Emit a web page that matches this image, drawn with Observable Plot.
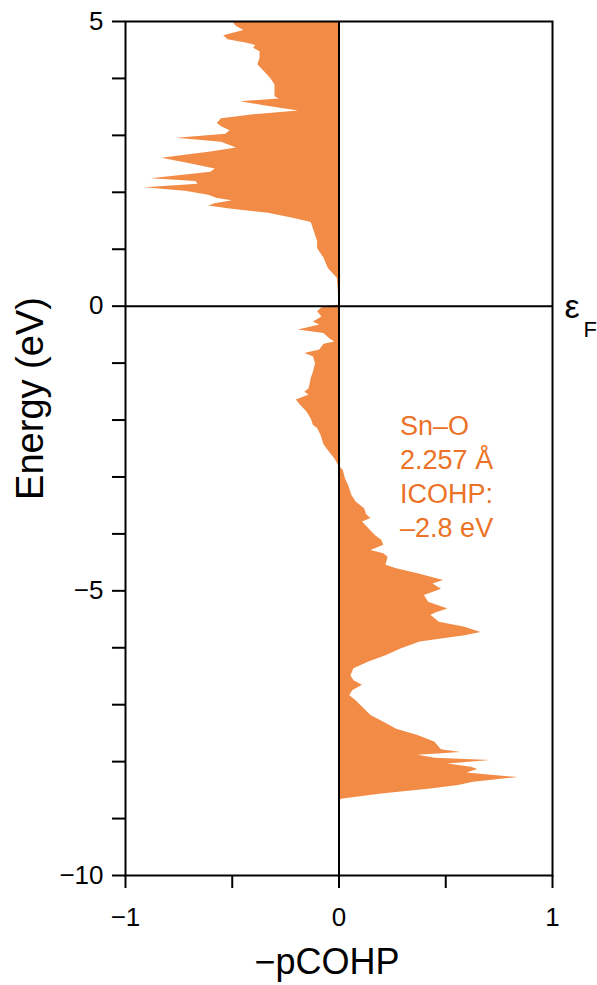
<!DOCTYPE html>
<html>
<head>
<meta charset="utf-8">
<script src="https://cdn.jsdelivr.net/npm/d3@7"></script>
<script src="https://cdn.jsdelivr.net/npm/@observablehq/plot@0.6"></script>
<style>
  html, body { margin: 0; padding: 0; background: #fff; }
  #chart svg { display: block; }
</style>
</head>
<body>
<div id="chart"></div>
<script>
// Energy (eV) and −pCOHP values
const energy = [
  5.00, 4.91, 4.84, 4.75, 4.68, 4.62, 4.58, 4.53, 4.47, 4.35, 4.24, 4.12, 4.00, 3.89, 3.68, 3.64,
  3.59, 3.52, 3.43, 3.36, 3.29, 3.21, 3.15, 3.08, 3.02, 2.95, 2.88, 2.78, 2.71, 2.60, 2.51, 2.41,
  2.35, 2.24, 2.19, 2.14, 2.08, 2.02, 1.95, 1.89, 1.85, 1.80, 1.76, 1.71, 1.63, 1.54, 1.47, 1.36,
  1.13, 1.01, 0.84, 0.66, 0.49, 0.30, 0.02,
  -0.01, -0.04, -0.10, -0.19, -0.28, -0.33, -0.42, -0.48, -0.57, -0.63, -0.67, -0.77, -0.83, -0.89,
  -1.01, -1.16, -1.27, -1.45, -1.51, -1.56, -1.65, -1.74, -1.86, -1.98, -2.09, -2.15, -2.27, -2.44,
  -2.56, -2.68, -2.81,
  -2.88, -3.03, -3.15, -3.32, -3.44, -3.56, -3.67, -3.73, -3.79, -3.91, -4.03, -4.11, -4.20, -4.29,
  -4.35, -4.41, -4.55, -4.61, -4.70, -4.82, -4.88, -4.97, -5.08, -5.20, -5.32, -5.38, -5.43, -5.55,
  -5.64, -5.73, -5.79, -5.90, -6.02, -6.14, -6.25, -6.37, -6.49, -6.58, -6.66, -6.75, -6.84, -6.93,
  -7.08, -7.19, -7.31, -7.43, -7.54, -7.66, -7.75, -7.79, -7.84, -7.89, -7.94, -7.98, -8.04, -8.10,
  -8.14, -8.20, -8.28, -8.36, -8.42, -8.48, -8.57, -8.66, -8.72, -10.00
];
const pcohp = [
  -0.50, -0.48, -0.445, -0.54, -0.52, -0.43, -0.39, -0.40, -0.37, -0.37, -0.38, -0.35, -0.32, -0.30, -0.30, -0.28,
  -0.46, -0.35, -0.19, -0.40, -0.55, -0.57, -0.55, -0.51, -0.53, -0.76, -0.55, -0.48, -0.60, -0.83, -0.71, -0.58,
  -0.60, -0.88, -0.67, -0.66, -0.91, -0.72, -0.61, -0.57, -0.50, -0.58, -0.61, -0.52, -0.33, -0.21, -0.13, -0.12,
  -0.10, -0.10, -0.07, -0.05, -0.008, -0.004, 0,
  -0.06, -0.084, -0.10, -0.08, -0.12, -0.09, -0.19, -0.07, -0.045, -0.02, -0.07, -0.09, -0.16, -0.12,
  -0.11, -0.12, -0.13, -0.14, -0.16, -0.14, -0.20, -0.18, -0.15, -0.13, -0.12, -0.10, -0.084, -0.07,
  -0.045, -0.02, 0,
  0.02, 0.03, 0.045, 0.06, 0.08, 0.12, 0.13, 0.15, 0.11, 0.14, 0.17, 0.20, 0.21, 0.15,
  0.21, 0.23, 0.22, 0.27, 0.37, 0.49, 0.44, 0.48, 0.40, 0.42, 0.51, 0.46, 0.43, 0.47,
  0.59, 0.665, 0.59, 0.38, 0.29, 0.22, 0.14, 0.07, 0.056, 0.07, 0.11, 0.065, 0.05, 0.08,
  0.12, 0.15, 0.21, 0.27, 0.37, 0.45, 0.47, 0.48, 0.57, 0.37, 0.45, 0.71, 0.51, 0.62,
  0.65, 0.60, 0.84, 0.63, 0.56, 0.43, 0.20, 0.01, 0, 0
];
const xTicks = [-1, -0.5, 0, 0.5, 1];
const yTicks = d3.range(-10, 6, 1);
const annotationLines = ["Sn–O", "2.257 Å", "ICOHP:", "–2.8 eV"];
const xLabel = "−pCOHP";
const yLabel = "Energy (eV)";

const data = energy.map((e, i) => ({e, v: pcohp[i]}));
const fmt = d => d < 0 ? "−" + Math.abs(d) : String(d);
const FONT = "'Liberation Sans', Arial, Helvetica, sans-serif";

const chart = Plot.plot({
  width: 597,
  height: 985,
  marginLeft: 125,
  marginRight: 45,
  marginTop: 21,
  marginBottom: 110,
  style: {fontFamily: FONT, background: "#fff", color: "#000", overflow: "visible"},
  x: {domain: [-1, 1]},
  y: {domain: [-10, 5]},
  marks: [
    Plot.areaX(data, {x: "v", y: "e", fill: "#F28B45", curve: "linear"}),
    Plot.ruleX([0], {stroke: "#000", strokeWidth: 2}),
    Plot.ruleY([0], {stroke: "#000", strokeWidth: 2}),
    Plot.frame({stroke: "#000", strokeWidth: 2}),
    Plot.axisX({
      ticks: xTicks, tickSize: 13, tickPadding: 19, strokeWidth: 2, fontSize: 26,
      tickFormat: d => Number.isInteger(d) ? fmt(d) : "", label: null
    }),
    Plot.axisY({
      ticks: yTicks, tickSize: 13, tickPadding: 9, strokeWidth: 2, fontSize: 26,
      tickFormat: d => d % 5 === 0 ? fmt(d) : "", label: null
    }),
    Plot.text([yLabel], {
      frameAnchor: "left", rotate: -90, dx: -95, dy: -50,
      fontSize: 38, textAnchor: "middle", lineAnchor: "middle", fill: "#000"
    }),
    Plot.text([xLabel], {
      frameAnchor: "bottom", dx: -12, dy: 98,
      fontSize: 36, textAnchor: "middle", lineAnchor: "bottom", fill: "#000"
    }),
    Plot.text([annotationLines.join("\n")], {
      x: [0.286], y: [-1.84], textAnchor: "start", lineAnchor: "top",
      fontSize: 27, lineHeight: 1.26, fill: "#EB7226"
    }),
    Plot.text(["ε"], {
      x: [1], y: [0], dx: 12, dy: 12, textAnchor: "start", lineAnchor: "bottom",
      fontSize: 34, fill: "#000"
    }),
    Plot.text(["F"], {
      x: [1], y: [0], dx: 31, dy: 31, textAnchor: "start", lineAnchor: "bottom",
      fontSize: 22, fill: "#000"
    })
  ]
});
document.getElementById("chart").appendChild(chart);
</script>
</body>
</html>
